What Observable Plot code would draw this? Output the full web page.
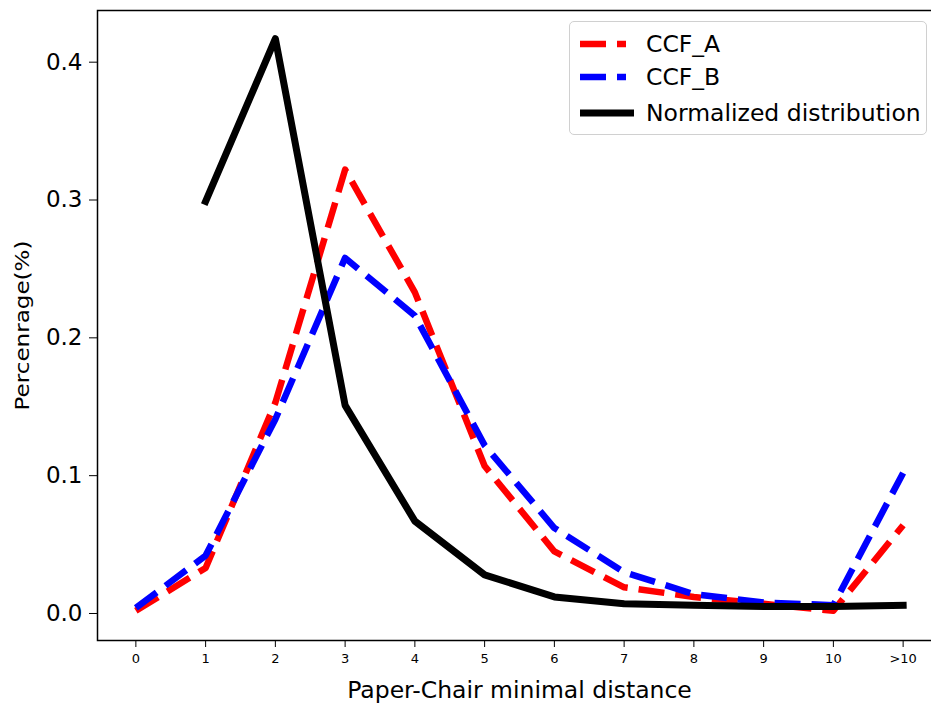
<!DOCTYPE html>
<html>
<head>
<meta charset="utf-8">
<script src="https://cdn.jsdelivr.net/npm/d3@7"></script>
<script src="https://cdn.jsdelivr.net/npm/@observablehq/plot@0.6"></script>
<style>
  html, body { margin: 0; padding: 0; background: #fff; }
  #wrap { position: relative; width: 931px; height: 704px; overflow: hidden; }
  #legend {
    position: absolute; left: 569px; top: 21px; width: 358px; height: 114px;
    border: 1.5px solid #d0d0d0; border-radius: 5px; background: rgba(255,255,255,0.85);
    font-family: "DejaVu Sans", sans-serif; font-size: 23.5px; color: #000;
    box-sizing: border-box;
  }
  .row { position: absolute; left: 0; height: 30px; display: flex; align-items: center; }
  .row svg { margin-left: 8px; }
  .row span { margin-left: 12px; }
</style>
</head>
<body>
<div id="wrap"></div>
<script>
const categories = ["0","1","2","3","4","5","6","7","8","9","10",">10"];
const ccfA = [0.002,0.033,0.153,0.322,0.233,0.107,0.045,0.019,0.012,0.007,0.002,0.064];
const ccfB = [0.004,0.042,0.141,0.258,0.216,0.122,0.062,0.030,0.014,0.008,0.006,0.102];
const normalized = [null,0.299,0.417,0.151,0.067,0.028,0.012,0.007,0.006,0.005,0.005,0.006];
const seriesNames = ["CCF_A","CCF_B","Normalized distribution"];
const colors = ["#ff0000","#0000ff","#000000"];

const toRows = (arr) => arr.map((v, i) => ({i, v})).filter(d => d.v != null);

const chart = Plot.plot({
  width: 931,
  height: 704,
  marginLeft: 97,
  marginRight: -10,
  marginTop: 10,
  marginBottom: 64,
  style: {fontFamily: "DejaVu Sans, sans-serif", background: "white", overflow: "hidden"},
  x: {domain: [-0.55, 11.55]},
  y: {domain: [-0.0196, 0.4375]},
  marks: [
    Plot.line(toRows(ccfA), {x: "i", y: "v", stroke: colors[0], strokeWidth: 6.5, strokeDasharray: "26,11", strokeLinecap: "butt", strokeLinejoin: "round"}),
    Plot.line(toRows(ccfB), {x: "i", y: "v", stroke: colors[1], strokeWidth: 6.5, strokeDasharray: "26,11", strokeLinecap: "butt", strokeLinejoin: "round"}),
    Plot.line(toRows(normalized), {x: "i", y: "v", stroke: colors[2], strokeWidth: 7, strokeLinecap: "square", strokeLinejoin: "round"}),
    Plot.frame({stroke: "black", strokeWidth: 1.5}),
    Plot.axisX({
      ticks: d3.range(categories.length),
      tickFormat: i => categories[i],
      tickSize: 7,
      tickPadding: 6,
      fontSize: 13,
      label: "Paper-Chair minimal distance",
      labelAnchor: "center",
      labelArrow: "none",
      labelOffset: 57
    }),
    Plot.axisY({
      ticks: [0, 0.1, 0.2, 0.3, 0.4],
      tickFormat: d3.format(".1f"),
      tickSize: 8,
      tickPadding: 7,
      fontSize: 23,
      label: "Percenrage(%)",
      labelAnchor: "center",
      labelArrow: "none",
      labelOffset: 83
    })
  ]
});
document.getElementById("wrap").appendChild(chart);

// style axis labels
chart.querySelectorAll('g[aria-label="x-axis label"] text').forEach(t => {
  t.setAttribute("font-size", 23.5);
  t.style.fontSize = "23.5px";
});
chart.querySelectorAll('g[aria-label="y-axis label"] text').forEach(t => {
  t.setAttribute("font-size", 20);
  t.style.fontSize = "20px";
  t.setAttribute("textLength", 170);
  t.setAttribute("lengthAdjust", "spacingAndGlyphs");
});

// legend
const legend = document.createElement("div");
legend.id = "legend";
const rowTops = [7, 40, 76];
seriesNames.forEach((name, k) => {
  const row = document.createElement("div");
  row.className = "row";
  row.style.top = rowTops[k] + "px";
  const dashed = k < 2;
  row.innerHTML = `<svg width="56" height="12"><line x1="2" y1="6" x2="${dashed ? 48 : 56}" y2="6" stroke="${colors[k]}" stroke-width="${dashed ? 6.5 : 7}" ${dashed ? 'stroke-dasharray="26,11"' : ''} stroke-linecap="butt"/></svg><span>${name}</span>`;
  legend.appendChild(row);
});
document.getElementById("wrap").appendChild(legend);
</script>
</body>
</html>
